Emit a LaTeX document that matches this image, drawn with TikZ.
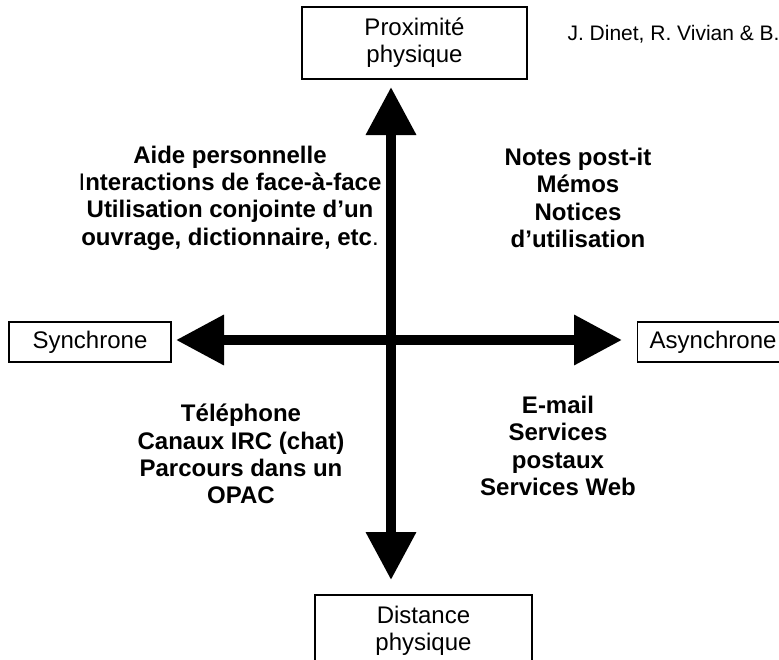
\documentclass[tikz,border=0pt]{standalone}
\usepackage{fontspec}
\setmainfont{Liberation Sans}
\usetikzlibrary{arrows.meta}

\begin{document}
\begin{tikzpicture}[x=1pt,y=-1pt,
  box/.style={draw,line width=1.2,align=center,inner sep=0,font=\fontsize{24}{26.7}\selectfont},
  quad/.style={align=center,font=\bfseries\fontsize{24}{27.3}\selectfont},
  axis/.style={line width=10,{Triangle[width=48pt,length=48pt]}-{Triangle[width=48pt,length=48pt]}}]
\useasboundingbox (0,0) rectangle (779,659);
\node [box,minimum width=225,minimum height=72] (prox) at (414.5,43) {Proximité\\physique};
\node [box,minimum width=217,minimum height=72] (dist) at (423.5,631) {Distance\\physique};
\node [box,minimum width=162,minimum height=40] (sync) at (90,342) {Synchrone};
\node [box,minimum width=151,minimum height=40,anchor=west] (async) at (637,342) {Asynchrone};
\node [anchor=base west,font=\fontsize{21}{25}\selectfont] (auth) at (564,40.5) {J. Dinet, R. Vivian \& B.};
  \coordinate (n) at (391,87);
  \coordinate (s) at (391,580);
  \coordinate (w) at (176,340);
  \coordinate (e) at (622,340);
  \draw [axis] (n) -- (s);
  \draw [axis] (w) -- (e);
\node [quad] (ul) at (230,198) {Aide personnelle\\{\mdseries I}nteractions de face-à-face\\Utilisation conjointe d’un\\ouvrage, dictionnaire, etc{\mdseries .}};
\node [quad] (ur) at (578,198) {Notes post-it\\Mémos\\Notices\\d’utilisation};
\node [quad] (ll) at (241,454) {Téléphone\\Canaux IRC (chat)\\Parcours dans un\\OPAC};
\node [quad] (lr) at (558,446) {E-mail\\Services\\postaux\\Services Web};
\end{tikzpicture}
\end{document}
